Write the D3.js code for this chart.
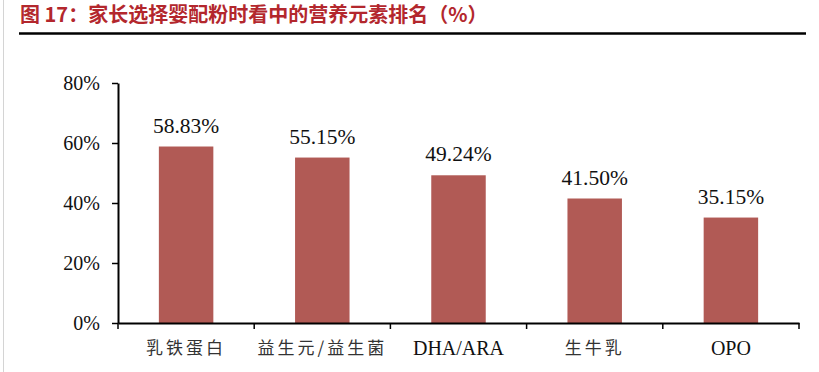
<!DOCTYPE html>
<html>
<head>
<meta charset="utf-8">
<script src="https://cdn.jsdelivr.net/npm/d3@7"></script>
<style>
  body { margin: 0; background: #fff; }
  svg { display: block; }
</style>
</head>
<body>
<div id="chart"></div>
<script>
const width = 819;
const height = 372;

// chart values
const categories = ["乳铁蛋白", "益生元/益生菌", "DHA/ARA", "生牛乳", "OPO"];
const shares = [58.83, 55.15, 49.24, 41.50, 35.15];
const yTicks = [0, 20, 40, 60, 80];

const svg = d3.select("#chart").append("svg")
    .attr("width", width)
    .attr("height", height);

// faint frame on the left edge
svg.append("line")
    .attr("x1", 3.5).attr("x2", 3.5)
    .attr("y1", 0).attr("y2", height)
    .attr("stroke", "#d4d4d4")
    .attr("stroke-width", 1);

// title + rule
svg.append("text")
    .attr("x", 20)
    .attr("y", 22)
    .attr("fill", "#b3272d")
    .attr("font-family", "'Noto Sans CJK SC', sans-serif")
    .attr("font-weight", "bold")
    .attr("font-size", 20)
    .text("图 17：家长选择婴配粉时看中的营养元素排名（%）");

svg.append("line")
    .attr("x1", 19).attr("x2", 806)
    .attr("y1", 33.5).attr("y2", 33.5)
    .attr("stroke", "#000")
    .attr("stroke-width", 2.5);

const x = d3.scaleBand()
    .domain(categories)
    .range([118, 799])
    .paddingInner(0)
    .paddingOuter(0);

const y = d3.scaleLinear()
    .domain([0, 80])
    .range([323, 83]);

const barW = x.bandwidth() * 0.4;

svg.append("g")
    .selectAll("rect")
    .data(shares)
    .enter()
    .append("rect")
    .attr("x", (d, i) => x(categories[i]) + (x.bandwidth() - barW) / 2)
    .attr("y", d => y(d))
    .attr("width", barW)
    .attr("height", d => y(0) - y(d))
    .attr("fill", "#b15a55");

svg.append("g")
    .selectAll("text")
    .data(shares)
    .enter()
    .append("text")
    .attr("x", (d, i) => x(categories[i]) + x.bandwidth() / 2)
    .attr("y", d => y(d) - 14)
    .attr("text-anchor", "middle")
    .attr("font-family", "'Liberation Serif', serif")
    .attr("font-size", 21.5)
    .attr("fill", "#111")
    .text(d => d.toFixed(2) + "%");

// y axis
const yAxis = svg.append("g")
    .attr("transform", "translate(118,0)")
    .call(d3.axisLeft(y).tickValues(yTicks).tickSize(6).tickSizeOuter(0).tickFormat(d => d + "%"));
yAxis.select(".domain").attr("stroke", "#000").attr("stroke-width", 2);
yAxis.selectAll(".tick line").attr("stroke", "#000").attr("stroke-width", 1.5);
yAxis.selectAll(".tick text")
    .attr("x", -18)
    .attr("font-family", "'Liberation Serif', serif")
    .attr("font-size", 20)
    .attr("fill", "#111");

// x axis
const isCJK = s => /[\u4e00-\u9fff]/.test(s);
const xAxis = svg.append("g")
    .attr("transform", "translate(0,323)")
    .call(d3.axisBottom(x).tickSize(0).tickSizeOuter(0));
xAxis.select(".domain").attr("stroke", "#000").attr("stroke-width", 2);
xAxis.selectAll(".tick text")
    .attr("y", 25)
    .attr("dy", "0.35em")
    .attr("font-family", d => isCJK(d) ? "'Noto Sans CJK SC', serif" : "'Liberation Serif', serif")
    .attr("font-size", d => isCJK(d) ? 17 : 20)
    .attr("letter-spacing", d => isCJK(d) ? "3px" : "0px")
    .attr("fill", d => isCJK(d) ? "#333" : "#111");

// boundary ticks between categories
const bounds = categories.map(c => x(c)).concat([x.range()[1]]);
svg.append("g")
    .selectAll("line")
    .data(bounds)
    .enter()
    .append("line")
    .attr("x1", d => d).attr("x2", d => d)
    .attr("y1", 323).attr("y2", 329)
    .attr("stroke", "#000")
    .attr("stroke-width", 1.5);
</script>
</body>
</html>
